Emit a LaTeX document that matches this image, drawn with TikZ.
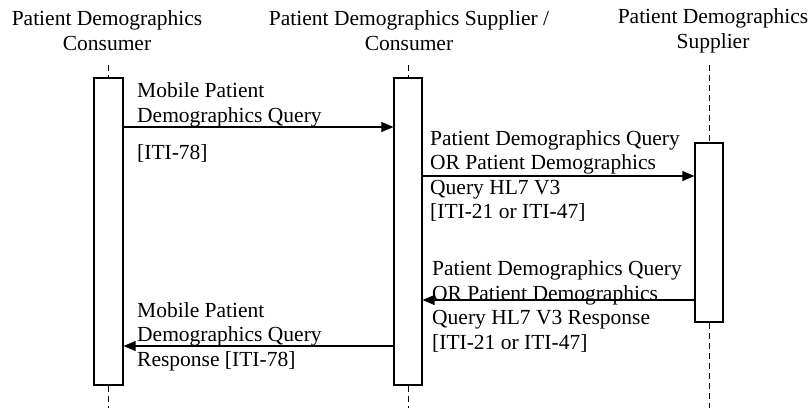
\documentclass[tikz,border=0pt]{standalone}
\usepackage{fontspec}
\setmainfont{Liberation Serif}
\usetikzlibrary{positioning,arrows.meta}

\begin{document}
\begin{tikzpicture}[
        x=1pt, y=-1pt,
        actor/.style={align=center, inner sep=0pt, font=\fontsize{21.5}{25}\selectfont},
        lbl/.style={align=left, inner sep=0pt, anchor=west, font=\fontsize{21.5}{24.5}\selectfont},
        act/.style={rectangle, draw, line width=1.2pt, minimum width=28pt, inner sep=0pt},
        lifeline/.style={dash pattern=on 6pt off 4pt, line width=0.9pt},
        msg/.style={-{Triangle[length=12pt,width=10pt]}, line width=1.1pt}
    ]
        \useasboundingbox (0,0) rectangle (812,408);

        % Actors
        \node[actor] (consumer) at (107,30.5) {Patient Demographics\\Consumer};
        \node[actor] (supcons) at (409,30.5) {Patient Demographics Supplier /\\Consumer};
        \node[actor] (supplier) at (713,30.5) {Patient Demographics\\Supplier};

        % Activation boxes
        \node[act, minimum width=29pt, minimum height=307pt] (actA) at (108.5,231.5) {};
        \node[act, minimum height=307pt] (actB) at (408,231.5) {};
        \node[act, minimum height=179pt] (actC) at (709,232.5) {};

        % Lifelines
        \coordinate (topA) at (108.5,65);
        \coordinate (topB) at (408,65);
        \coordinate (topC) at (709,65);
        \coordinate (botA) at (108.5,408);
        \coordinate (botB) at (408,408);
        \coordinate (botC) at (709,408);
        \draw[lifeline] (topA) -- (actA.north);
        \draw[lifeline] (actA.south) -- (botA);
        \draw[lifeline] (topB) -- (actB.north);
        \draw[lifeline] (actB.south) -- (botB);
        \draw[lifeline] (topC) -- (actC.north);
        \draw[lifeline] (actC.south) -- (botC);

        % Messages
        \coordinate (m1) at (0,127);
        \coordinate (m2) at (0,176);
        \coordinate (m3) at (0,300);
        \coordinate (m4) at (0,346);
        \draw[msg] (actA.east |- m1) -- (actB.west |- m1);
        \draw[msg] (actB.east |- m2) -- (actC.west |- m2);
        \draw[msg] (actC.west |- m3) -- (actB.east |- m3);
        \draw[msg] (actB.west |- m4) -- (actA.east |- m4);

        % Labels
        \node[lbl] (q1) at (137,105) {Mobile Patient\\Demographics Query};
        \node[lbl] (q1ref) at (137,153) {[ITI-78]};
        \node[lbl] (q2) at (430,176) {Patient Demographics Query\\OR Patient Demographics\\Query HL7 V3\\{}[ITI-21 or ITI-47]};
        \node[lbl] (r2) at (432,306.5) {Patient Demographics Query\\OR Patient Demographics\\Query HL7 V3 Response\\{}[ITI-21 or ITI-47]};
        \node[lbl] (r1) at (137,336.5) {Mobile Patient\\Demographics Query\\Response [ITI-78]};
    \end{tikzpicture}
\end{document}
